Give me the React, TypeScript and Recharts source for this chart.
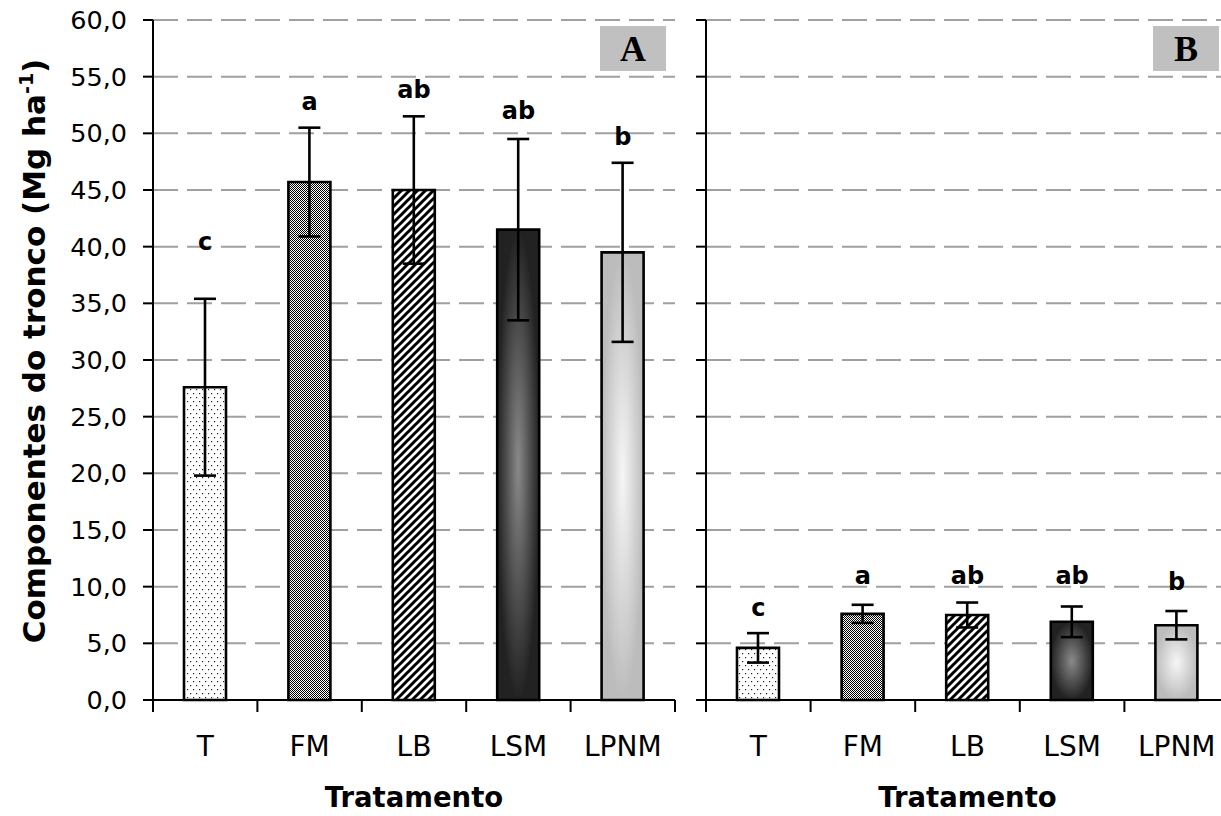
import { Bar, CartesianGrid, Cell, ComposedChart, ErrorBar, Scatter, XAxis, YAxis } from 'recharts'

const categories = ['T', 'FM', 'LB', 'LSM', 'LPNM']

const meansA = [27.6, 45.7, 45.0, 41.5, 39.5]
const errorsA = [7.8, 4.8, 6.5, 8.0, 7.9]
const lettersA = ['c', 'a', 'ab', 'ab', 'b']
const letterAtA = [39.7, 52.1, 53.1, 51.3, 49.0]

const meansB = [4.6, 7.6, 7.5, 6.9, 6.6]
const errorsB = [1.3, 0.8, 1.1, 1.35, 1.25]
const lettersB = ['c', 'a', 'ab', 'ab', 'b']
const letterAtB = [7.4, 10.2, 10.2, 10.2, 9.7]

const yTicks = [0, 5, 10, 15, 20, 25, 30, 35, 40, 45, 50, 55, 60]

const FILLS = ['url(#pT)', 'url(#pFM)', 'url(#pLB)', 'url(#gLSM)', 'url(#gLPNM)']
const FONT = '"DejaVu Sans", Verdana, sans-serif'

const fmt = (v: number) => v.toFixed(1).replace('.', ',')

function YTick({ x, y, payload }: any) {
  return (
    <text x={x} y={y + 9} textAnchor="end" fontFamily={FONT} fontSize={25.5} fill="#000">
      {fmt(payload.value)}
    </text>
  )
}

function CatTick({ x, y, payload, index, band }: any) {
  const left = x - band / 2
  return (
    <g>
      <line x1={left} y1={y} x2={left} y2={y + 12} stroke="#000" strokeWidth={2} />
      {index === categories.length - 1 && (
        <line x1={x + band / 2} y1={y} x2={x + band / 2} y2={y + 12} stroke="#000" strokeWidth={2} />
      )}
      <text x={x} y={y + 56} textAnchor="middle" fontFamily={FONT} fontSize={28} fill="#000">
        {payload.value}
      </text>
    </g>
  )
}

function YTitle() {
  const cx = 45
  const cy = 351
  return (
    <text
      x={cx}
      y={cy}
      transform={`rotate(-90 ${cx} ${cy})`}
      textAnchor="middle"
      fontFamily={FONT}
      fontWeight="bold"
      fontSize={31}
      fill="#000"
    >
      Componentes do tronco (Mg ha
      <tspan fontSize={19} dy={-12}>-1</tspan>
      <tspan dy={12}>)</tspan>
    </text>
  )
}

function Letter({ cx, cy, payload }: any) {
  return (
    <text x={cx} y={cy} textAnchor="middle" fontFamily={FONT} fontWeight="bold" fontSize={24} fill="#000">
      {payload.letter}
    </text>
  )
}

function Panel({
  means,
  errors,
  letters,
  letterAt,
  width,
  yWidth,
  right,
  first,
}: {
  means: number[]
  errors: number[]
  letters: string[]
  letterAt: number[]
  width: number
  yWidth: number
  right: number
  first: boolean
}) {
  const data = categories.map((name, i) => ({
    name,
    mean: means[i],
    err: errors[i],
    letter: letters[i],
    letterAt: letterAt[i],
  }))
  const band = (width - yWidth - right) / categories.length

  return (
    <ComposedChart width={width} height={816} data={data} margin={{ top: 20, right, bottom: 0, left: 0 }}>
      <CartesianGrid vertical={false} stroke="#a0a0a0" strokeWidth={2} strokeDasharray="25 9" />
      <XAxis
        dataKey="name"
        height={116}
        interval={0}
        axisLine={{ stroke: '#000', strokeWidth: 2 }}
        tickLine={false}
        tickSize={0}
        tickMargin={0}
        tick={(p: any) => <CatTick {...p} band={band} />}
        label={{
          value: 'Tratamento',
          position: 'insideBottom',
          offset: 9,
          fill: '#000',
          fontSize: 27.5,
          fontWeight: 'bold',
          fontFamily: FONT,
        }}
      />
      <YAxis
        type="number"
        domain={[0, 60]}
        ticks={yTicks}
        width={yWidth}
        axisLine={{ stroke: '#000', strokeWidth: 2 }}
        tickLine={{ stroke: '#000', strokeWidth: 2 }}
        tickSize={10}
        tickMargin={16}
        tick={first ? (p: any) => <YTick {...p} /> : () => <g />}
        label={first ? <YTitle /> : undefined}
      />
      <Bar dataKey="mean" barSize={42} stroke="#000" strokeWidth={2.6} isAnimationActive={false}>
        {data.map((_, i) => (
          <Cell key={i} fill={FILLS[i]} />
        ))}
        <ErrorBar dataKey="err" width={11} stroke="#000" strokeWidth={2.6} direction="y" />
      </Bar>
      <Scatter dataKey="letterAt" shape={(p: any) => <Letter {...p} />} isAnimationActive={false} />
    </ComposedChart>
  )
}

const boxStyle = {
  position: 'absolute' as const,
  top: 26,
  width: 66,
  height: 45,
  background: '#c0c0c0',
  display: 'flex',
  alignItems: 'center',
  justifyContent: 'center',
  fontFamily: '"Liberation Serif", "Times New Roman", serif',
  fontWeight: 'bold' as const,
  fontSize: 36,
  lineHeight: 1,
  color: '#000',
}

export default function App() {
  return (
    <div
      style={{
        position: 'absolute',
        left: 0,
        top: 0,
        width: 1221,
        height: 816,
        overflow: 'hidden',
        background: '#fff',
      }}
    >
      <svg width={0} height={0} style={{ position: 'absolute' }}>
        <defs>
          <pattern id="pT" width={6} height={8} patternUnits="userSpaceOnUse">
            <rect width={6} height={8} fill="#fff" />
            <rect x={1} y={1} width={1.2} height={1.2} fill="#222" />
            <rect x={4} y={5} width={1.2} height={1.2} fill="#222" />
          </pattern>
          <pattern id="dither" width={2} height={2} patternUnits="userSpaceOnUse">
            <rect width={2} height={2} fill="#fff" />
            <rect x={0} y={0} width={1} height={1} fill="#000" />
            <rect x={1} y={1} width={1} height={1} fill="#000" />
          </pattern>
          <pattern id="pFM" width={8} height={8} patternUnits="userSpaceOnUse">
            <rect width={8} height={8} fill="url(#dither)" />
            <rect x={1} y={2} width={3} height={1} fill="#fff" />
            <rect x={2} y={1} width={1} height={3} fill="#fff" />
            <rect x={2} y={2} width={1} height={1} fill="#000" />
            <rect x={5} y={6} width={3} height={1} fill="#fff" />
            <rect x={6} y={5} width={1} height={3} fill="#fff" />
            <rect x={6} y={6} width={1} height={1} fill="#000" />
          </pattern>
          <pattern id="pLB" width={8} height={8} patternUnits="userSpaceOnUse">
            <rect width={8} height={8} fill="#fff" />
            <path d="M0,8 L8,0 M-2,2 L2,-2 M6,10 L10,6" stroke="#000" strokeWidth={3} />
          </pattern>
          <radialGradient id="gLSM" cx={0.5} cy={0.5} r={0.5}>
            <stop offset="0" stopColor="#8a8a8a" />
            <stop offset="0.55" stopColor="#505050" />
            <stop offset="1" stopColor="#222" />
          </radialGradient>
          <radialGradient id="gLPNM" cx={0.5} cy={0.5} r={0.5}>
            <stop offset="0" stopColor="#f6f6f6" />
            <stop offset="1" stopColor="#bcbcbc" />
          </radialGradient>
        </defs>
      </svg>

      <div style={{ position: 'absolute', left: 0, top: 0 }}>
        <Panel
          means={meansA}
          errors={errorsA}
          letters={lettersA}
          letterAt={letterAtA}
          width={690}
          yWidth={153}
          right={15}
          first
        />
      </div>
      <div style={{ position: 'absolute', left: 690, top: 0 }}>
        <Panel
          means={meansB}
          errors={errorsB}
          letters={lettersB}
          letterAt={letterAtB}
          width={539}
          yWidth={16}
          right={0}
          first={false}
        />
      </div>

      <div style={{ ...boxStyle, left: 600 }}>A</div>
      <div style={{ ...boxStyle, left: 1153 }}>B</div>
    </div>
  )
}
